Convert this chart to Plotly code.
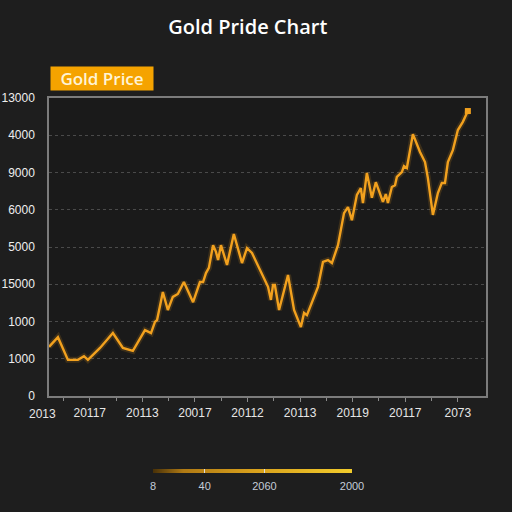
import plotly.graph_objects as go
import numpy as np

# ---- data (x in period units, y in grid units) ----
t_vals = [0.00, 0.34, 0.72, 1.10, 1.33, 1.48, 1.94, 2.43, 2.81, 3.19, 3.65, 3.88, 4.03, 4.11,
          4.33, 4.52, 4.71, 4.90, 5.13, 5.48, 5.74, 5.86, 5.97, 6.08, 6.24, 6.35, 6.43, 6.54,
          6.77, 7.03, 7.34, 7.53, 7.72, 8.02, 8.33, 8.44, 8.52, 8.59, 8.75, 9.09, 9.32, 9.58,
          9.70, 9.81, 10.23, 10.42, 10.61, 10.76, 10.99, 11.22, 11.37, 11.52, 11.71, 11.86,
          11.94, 12.09, 12.28, 12.43, 12.59, 12.70, 12.81, 12.89, 13.04, 13.16, 13.23, 13.42,
          13.50, 13.61, 13.84, 14.11, 14.30, 14.41, 14.60, 14.79, 14.94, 15.06, 15.17, 15.36,
          15.55, 15.74, 15.93]
price = [1.32, 1.58, 0.97, 0.97, 1.07, 0.97, 1.29, 1.69, 1.29, 1.21, 1.77, 1.69, 1.99, 2.04,
         2.79, 2.31, 2.66, 2.74, 3.06, 2.52, 3.06, 3.06, 3.30, 3.44, 4.05, 3.87, 3.65, 4.05,
         3.52, 4.35, 3.57, 3.97, 3.84, 3.38, 2.93, 2.58, 2.98, 2.98, 2.31, 3.25, 2.31, 1.85,
         2.23, 2.17, 2.93, 3.60, 3.65, 3.57, 4.05, 4.91, 5.07, 4.72, 5.40, 5.58,
         5.18, 5.99, 5.32, 5.74, 5.40, 5.21, 5.42, 5.18, 5.61, 5.66, 5.88, 6.01,
         6.17, 6.12, 7.03, 6.55, 6.28, 5.85, 4.86, 5.45, 5.72, 5.72, 6.28, 6.60,
         7.14, 7.36, 7.65]

y_tickvals = [0, 1, 2, 3, 4, 5, 6, 7, 8]
y_ticktext = ["0", "1000", "1000", "15000", "5000", "6000", "9000", "4000", "13000"]

x_major_vals = [1.55, 3.55, 5.55, 7.55, 9.55, 11.55, 13.55, 15.55]
x_major_text = ["20117", "20113", "20017", "20112", "20113", "20119", "20117", "2073"]
x_minor_vals = [0.55, 2.55, 4.55, 6.55, 8.55, 10.55, 12.55, 14.55]
x_first_label = "2013"

cb_vals = [0, 26, 56, 100]
cb_text = ["8", "40", "2060", "2000"]

LINE = "#F2A11E"
fig = go.Figure()

# glow
fig.add_trace(go.Scatter(x=t_vals, y=price, mode="lines",
                         line=dict(color="rgba(242,161,30,0.16)", width=6),
                         hoverinfo="skip", showlegend=False))
fig.add_trace(go.Scatter(x=t_vals, y=price, mode="lines",
                         line=dict(color=LINE, width=2.4),
                         showlegend=False))
fig.add_trace(go.Scatter(x=[t_vals[-1]], y=[price[-1]], mode="markers",
                         marker=dict(color=LINE, size=6, symbol="square"),
                         showlegend=False))

# gradient bar
zx = np.linspace(0, 100, 200)
fig.add_trace(go.Heatmap(x=zx, y=[0], z=[zx], xaxis="x2", yaxis="y2",
                         colorscale=[[0, "#4a3208"], [0.15, "#b07a14"], [0.5, "#d8a01c"], [1, "#f2cc2c"]],
                         showscale=False, hoverinfo="skip"))

fig.update_layout(
    width=512, height=512,
    margin=dict(l=49, r=26, t=98, b=20, autoexpand=False),
    paper_bgcolor="#1e1e1e",
    plot_bgcolor="#1a1a1a",
    title=dict(text="Gold Pride Chart", x=0.484, xanchor="center",
               y=1 - 27 / 512, yanchor="middle",
               font=dict(family="Open Sans", size=20, color="#ffffff", weight=600)),
    xaxis=dict(range=[0, 16.62], domain=[0, 1], tickmode="array", automargin=False,
               tickvals=x_major_vals, ticktext=x_major_text,
               ticks="outside", ticklen=4, tickcolor="#8a8a8a", tickwidth=1,
               minor=dict(tickmode="array", tickvals=x_minor_vals, ticks="outside",
                          ticklen=3, tickcolor="#8a8a8a"),
               showgrid=False, zeroline=False,
               showline=True, linecolor="#7c7c7c", linewidth=1.5, mirror=True,
               tickfont=dict(family="Liberation Sans", size=12, color="#e6e6e6"),
               ticklabelstandoff=1),
    yaxis=dict(range=[0, 8], domain=[(492 - 396) / 394, 1], tickmode="array",
               automargin=False,
               tickvals=y_tickvals, ticktext=y_ticktext,
               showgrid=True, gridcolor="#4a4a4a", griddash="dot", gridwidth=1,
               zeroline=False, showline=True, linecolor="#7c7c7c", linewidth=1.5,
               mirror=True, ticks="",
               tickfont=dict(family="Liberation Sans", size=12, color="#eeeeee"),
               ticklabelstandoff=10),
    xaxis2=dict(domain=[(153 - 49) / 437, (352 - 49) / 437], range=[0, 100],
                anchor="y2", tickmode="array", tickvals=cb_vals, ticktext=cb_text,
                automargin=False,
                ticks="inside", ticklen=4, tickcolor="#dddddd",
                showgrid=False, zeroline=False, showline=False,
                tickfont=dict(family="Liberation Sans", size=11, color="#c4ccd8"),
                ticklabelstandoff=5),
    yaxis2=dict(domain=[(492 - 473) / 394, (492 - 469) / 394], anchor="x2",
                visible=False, range=[-0.5, 0.5], automargin=False),
    annotations=[
        dict(text=x_first_label, xref="paper", yref="paper",
             x=(42 - 49) / 437, y=(492 - 414) / 394, xanchor="center", yanchor="middle",
             showarrow=False, font=dict(family="Liberation Sans", size=12, color="#e6e6e6")),
        dict(text="Gold Price", xref="paper", yref="paper",
             x=(50 - 49) / 437, y=(492 - 78) / 394, xanchor="left", yanchor="middle",
             showarrow=False, bgcolor="#F5A300", width=98, height=19, borderpad=2,
             font=dict(family="Open Sans", size=17, color="#fff4d6", weight=600)),
    ],
)

fig.write_html("out.html")
